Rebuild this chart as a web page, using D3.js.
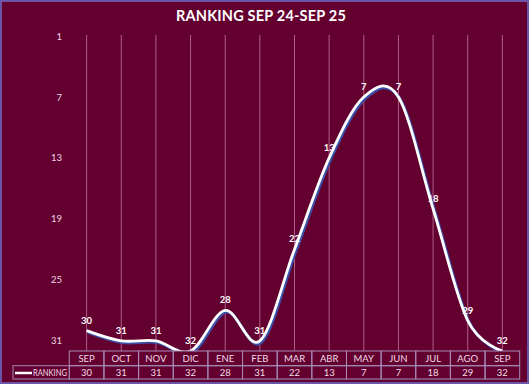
<!DOCTYPE html>
<html><head><meta charset="utf-8">
<script src="https://cdn.jsdelivr.net/npm/d3@7/dist/d3.min.js"></script>
<style>html,body{margin:0;padding:0;background:#64002f;}svg{display:block;}</style>
</head><body>
<script>
const title = "RANKING SEP 24-SEP 25";
const months = ["SEP","OCT","NOV","DIC","ENE","FEB","MAR","ABR","MAY","JUN","JUL","AGO","SEP"];
const ranking = [30,31,31,32,28,31,22,13,7,7,18,29,32];
const yTicks = [1,7,13,19,25,31];
const seriesName = "RANKING";

const W = 529, H = 384;
const svg = d3.select("body").append("svg").attr("width", W).attr("height", H);
svg.append("rect").attr("x",0).attr("y",0).attr("width",W).attr("height",H).attr("fill","#64002f");
svg.append("rect").attr("x",1).attr("y",1).attr("width",W-2).attr("height",H-2)
  .attr("fill","none").attr("stroke","#6b55a8").attr("stroke-width",2);

const font = "Lato, 'Open Sans', sans-serif";
svg.append("text").attr("x",261).attr("y",21).attr("text-anchor","middle")
  .attr("font-family",font).attr("font-weight","bold").attr("font-size",14.5)
  .attr("fill","#ffffff").attr("letter-spacing",0.2).text(title);

const idx = months.map((d,i)=>i);
const x = d3.scaleBand().domain(idx).range([69.3, 519.7]).padding(0);
const cx = i => x(i) + x.bandwidth()/2;
const plotTop = 36, plotBottom = 351;
const y = d3.scaleLinear().domain([1,32]).range([plotTop, plotBottom]);

// vertical gridlines
svg.append("g").selectAll("line").data(idx).join("line")
  .attr("x1", d=>cx(d)).attr("x2", d=>cx(d))
  .attr("y1", plotTop-1).attr("y2", plotBottom)
  .attr("stroke","#d890b4").attr("stroke-opacity",0.65).attr("stroke-width",1);

// y axis labels
const yAxis = d3.axisLeft(y).tickValues(yTicks).tickSize(0).tickPadding(0);
const gy = svg.append("g").attr("transform","translate(62,0)").call(yAxis);
gy.select(".domain").remove();
gy.selectAll("text").attr("font-family",font).attr("font-size",9.5).attr("fill","#f0d8e4");

// clip
svg.append("clipPath").attr("id","clip").append("rect")
  .attr("x",60).attr("y",plotTop-10).attr("width",470).attr("height",plotBottom-plotTop+10);

const line = d3.line().x((d,i)=>cx(i)).y(d=>y(d)).curve(d3.curveCardinal.tension(0));
const gl = svg.append("g").attr("clip-path","url(#clip)");
gl.append("path").datum(ranking).attr("d",line).attr("fill","none")
  .attr("stroke","#3a4fa8").attr("stroke-width",3.2).attr("transform","translate(1.3,1.6)");
gl.append("path").datum(ranking).attr("d",line).attr("fill","none")
  .attr("stroke","#ffffff").attr("stroke-width",2.8);

// data labels
svg.append("g").selectAll("text").data(ranking).join("text")
  .attr("x",(d,i)=>cx(i)).attr("y",d=>y(d)-7)
  .attr("text-anchor","middle").attr("font-family",font).attr("font-weight","bold")
  .attr("font-size",9.5).attr("fill","#ffffff").text(d=>d);

// data table
const tTop = 351, tMid = 365.7, tBot = 379;
const tg = svg.append("g");
const border = "#a58cb8";
tg.selectAll("rect.h").data(idx).join("rect").attr("class","h")
  .attr("x",d=>x(d)).attr("y",tTop).attr("width",x.bandwidth()).attr("height",tMid-tTop)
  .attr("fill","none").attr("stroke",border).attr("stroke-width",1);
tg.selectAll("rect.v").data(idx).join("rect").attr("class","v")
  .attr("x",d=>x(d)).attr("y",tMid).attr("width",x.bandwidth()).attr("height",tBot-tMid)
  .attr("fill","none").attr("stroke",border).attr("stroke-width",1);
tg.append("rect").attr("x",13).attr("y",tMid).attr("width",69.3-13).attr("height",tBot-tMid)
  .attr("fill","none").attr("stroke",border).attr("stroke-width",1);
tg.selectAll("text.h").data(idx).join("text").attr("class","h")
  .attr("x",d=>cx(d)).attr("y",(tTop+tMid)/2+3.3).attr("text-anchor","middle")
  .attr("font-family",font).attr("font-size",9.5).attr("fill","#f0dce8").text(d=>months[d]);
tg.selectAll("text.v").data(idx).join("text").attr("class","v")
  .attr("x",d=>cx(d)).attr("y",(tMid+tBot)/2+3.3).attr("text-anchor","middle")
  .attr("font-family",font).attr("font-size",9.5).attr("fill","#f0dce8").text(d=>ranking[d]);
tg.append("line").attr("x1",15).attr("x2",32).attr("y1",373).attr("y2",373)
  .attr("stroke","#ffffff").attr("stroke-width",2.5);
tg.append("text").attr("x",33).attr("y",(tMid+tBot)/2+3.3)
  .attr("font-family",font).attr("font-size",9.5).attr("fill","#f0dce8")
  .attr("textLength",34).attr("lengthAdjust","spacingAndGlyphs").text(seriesName);
</script>
</body></html>
